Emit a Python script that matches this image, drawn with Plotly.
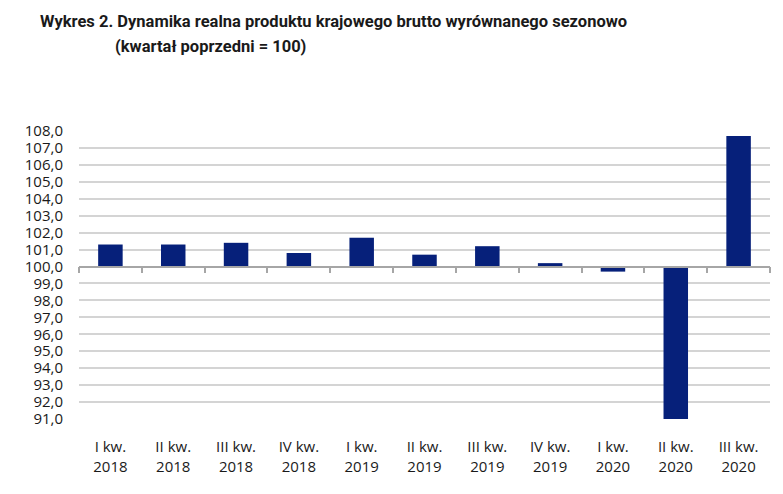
import plotly.graph_objects as go

categories = ["I kw.<br>2018", "II kw.<br>2018", "III kw.<br>2018", "IV kw.<br>2018",
              "I kw.<br>2019", "II kw.<br>2019", "III kw.<br>2019", "IV kw.<br>2019",
              "I kw.<br>2020", "II kw.<br>2020", "III kw.<br>2020"]
values = [101.3, 101.3, 101.4, 100.8, 101.7, 100.7, 101.2, 100.2, 99.7, 91.0, 107.7]
base_value = 100.0
y_ticks = list(range(91, 109))

# page body has an 8px margin; compensate
OFF = 8
W, H = 783 - OFF, 494 - OFF
L, R, T, B = 79 - OFF, W - (770 - OFF), 131 - OFF, H - (419 - OFF)
PW, PH = W - L - R, H - T - B

fig = go.Figure()
fig.add_trace(go.Bar(
    x=categories,
    y=[v - base_value for v in values],
    base=base_value,
    marker=dict(color="#06207a", line=dict(width=0)),
    width=0.39,
    hoverinfo="skip",
))
fig.add_trace(go.Scatter(x=categories, y=[base_value] * len(categories), xaxis="x2",
                         mode="lines", line=dict(width=0), showlegend=False, hoverinfo="skip"))

ymin, ymax = 91, 108
fig.update_layout(
    width=W, height=H,
    margin=dict(l=L, r=R, t=T, b=B, autoexpand=False),
    plot_bgcolor="white", paper_bgcolor="white",
    showlegend=False,
    separators=", ",
    font=dict(family="Open Sans", color="#1a1a1a"),
    xaxis=dict(
        type="category", categoryarray=categories, range=[-0.5, 10.5],
        showline=False, showgrid=False, zeroline=False,
        ticks="outside", ticklen=14, tickcolor="rgba(0,0,0,0)",
        tickfont=dict(size=15, family="Open Sans", color="#1a1a1a"),
    ),
    xaxis2=dict(
        type="category", categoryarray=categories, range=[-0.5, 10.5],
        overlaying="x", anchor="free",
        position=(base_value - ymin) / (ymax - ymin),
        showline=True, linecolor="#a6a6a6", linewidth=1.5,
        ticks="outside", tickson="boundaries", ticklen=6, tickcolor="#a6a6a6", tickwidth=1.5,
        showticklabels=False, showgrid=False, zeroline=False,
    ),
    yaxis=dict(
        range=[ymin, ymax], tickvals=y_ticks, tickformat=".1f",
        showgrid=True, gridcolor="#d4d4d4", gridwidth=1.5,
        zeroline=False, showline=False,
        ticklabelstandoff=15,
        tickfont=dict(size=15, family="Open Sans", color="#1a1a1a"),
    ),
    annotations=[
        dict(text="<b>Wykres 2. Dynamika realna produktu krajowego brutto wyrównanego sezonowo</b>",
             xref="paper", yref="paper", x=(38 - OFF - L) / PW, y=1 + (T - (22 - OFF)) / PH,
             xanchor="left", yanchor="middle", showarrow=False,
             font=dict(size=16.5, family="Roboto", color="#1a1a1a")),
        dict(text="<b>(kwartał poprzedni = 100)</b>",
             xref="paper", yref="paper", x=(113 - OFF - L) / PW, y=1 + (T - (46 - OFF)) / PH,
             xanchor="left", yanchor="middle", showarrow=False,
             font=dict(size=16.5, family="Roboto", color="#1a1a1a")),
    ],
)

fig.write_html("out.html")
